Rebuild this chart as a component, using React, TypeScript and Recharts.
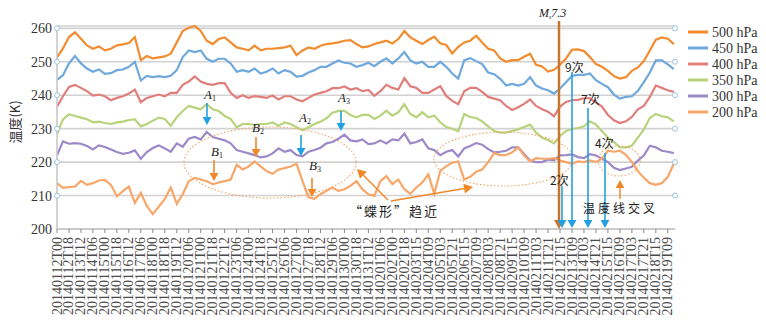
import React from "react";
import { LineChart, Line, XAxis, YAxis, CartesianGrid, ReferenceDot } from "recharts";

// category labels, one tick every 18 h (data sampled twice per tick)
const LABELS = [
  "20140112T00", "20140112T18", "20140113T12", "20140114T06", "20140115T00", "20140115T18",
  "20140116T12", "20140117T06", "20140118T00", "20140118T18", "20140119T12", "20140120T06",
  "20140121T00", "20140121T18", "20140122T12", "20140123T06", "20140124T00", "20140124T18",
  "20140125T12", "20140126T06", "20140127T00", "20140127T18", "20140128T12", "20140129T06",
  "20140130T00", "20140130T18", "20140131T12", "20140201T06", "20140202T00", "20140202T18",
  "20140203T15", "20140204T09", "20140205T03", "20140205T21", "20140206T15", "20140207T09",
  "20140208T03", "20140208T21", "20140209T15", "20140210T09", "20140211T03", "20140211T21",
  "20140212T15", "20140213T09", "20140214T03", "20140214T21", "20140215T15", "20140216T09",
  "20140217T03", "20140217T21", "20140218T15", "20140219T09",
];

const P500 = [
  251.3, 254, 257.4, 258.8, 256.9, 254.9, 253.9, 254.6, 253.4, 253.9, 254.9, 255.2, 255.6, 257.4, 250.5, 251.7,
  251, 251.3, 251.6, 252.4, 255.8, 259.2, 260.2, 260.7, 259.2, 256.3, 255.3, 256.8, 257.3, 255.8, 254.3, 253.9,
  253.4, 254.8, 253.4, 253.9, 253.9, 254.1, 254.3, 254.8, 252, 253.4, 254.3, 253.9, 254.8, 255.3, 255.5, 255.8,
  256.3, 256.5, 255.3, 254.3, 254.6, 255.3, 255.8, 256.3, 255.5, 256.8, 259.2, 257.3, 256.3, 255.3, 256.5, 257.5,
  255.5, 255, 252.5, 254.5, 255.8, 256.3, 257.8, 255.8, 253.9, 253.4, 251, 250, 250.5, 250.5, 251.5, 252.4,
  249.1, 248.6, 247.1, 247.6, 249.1, 251, 253.6, 253.7, 253.2, 251.4, 249.3, 248.5, 247.3, 245.7, 245, 245.4,
  247.3, 248.3, 250.2, 253.4, 256.6, 257.3, 256.9, 255.3,
];
const P450 = [
  244.6, 246, 249.5, 251.7, 249.5, 248, 247, 247.7, 246.4, 246.6, 247.5, 247.7, 248.5, 250, 244.4, 245.8,
  245.4, 245.7, 245.4, 245.8, 247.5, 251.4, 253.4, 252.9, 253.4, 250.9, 250, 250.9, 250.9, 249.5, 247, 247.5,
  247, 248, 246.5, 247, 248, 246.5, 247.5, 247, 245.6, 245.8, 246.8, 247.5, 248.5, 248.5, 249.5, 250.4,
  249.7, 249.5, 248.5, 249, 249.7, 248.7, 250, 251, 249.5, 251, 252.9, 250.4, 249.5, 250, 248.5, 248.5,
  250, 248.5, 246.5, 245, 250.4, 251.1, 250.2, 249.3, 246.8, 246.3, 244.9, 242.9, 243.4, 242.9, 243.4, 245.4,
  242.9, 242, 241.5, 240.5, 242, 243.9, 245.8, 246.1, 246.1, 246.5, 244.5, 243.4, 242.4, 240.2, 239, 239.5,
  239.7, 241.3, 243.9, 246.8, 250.4, 250.4, 249.2, 247.8,
];
const P400 = [
  236.6, 239.7, 242.5, 243.1, 242.2, 241.2, 239.9, 240.2, 239.7, 238.5, 239.2, 239.7, 240.5, 241.7, 237.9, 239.2,
  239.7, 240.2, 239.7, 240.7, 240.7, 243.1, 244.1, 245.6, 244.1, 243.4, 243.1, 243.6, 243.6, 240.7, 239.2, 240,
  239.2, 239.7, 239.5, 239.2, 239.9, 238.7, 239.7, 239.7, 238.7, 238.2, 239.2, 240.2, 240.7, 241.2, 242.1, 242.1,
  242.6, 241.7, 242.1, 241.2, 241.6, 239.8, 241.2, 243.1, 242.2, 241.7, 245.1, 242.7, 242.2, 240.7, 240.7, 241.7,
  242.7, 239.8, 238.3, 237.3, 241.2, 242.2, 242.2, 241, 239.5, 239, 238.5, 236.8, 235.6, 236.4, 237.4, 238.7,
  236.8, 235.8, 235.1, 233.7, 236.6, 238, 238.5, 238.6, 239.1, 239.1, 237.8, 236.6, 234.1, 232.5, 231.7, 232.2,
  233.5, 235.8, 236.8, 239.5, 242.9, 242.2, 241.5, 241,
];
const P350 = [
  228.4, 232.8, 234.3, 233.8, 233.3, 232.8, 231.9, 232.1, 231.7, 231.4, 231.9, 232.1, 232.6, 232.8, 230.7, 231.4,
  232.4, 233.3, 232.9, 230.9, 233.4, 235.3, 236.8, 236.3, 235.8, 237.3, 235.8, 235.3, 233.8, 232.9, 230.4, 231.4,
  231.4, 231.1, 231.4, 231.4, 231.9, 230.9, 231.9, 231.4, 230.4, 229.5, 230.4, 231.4, 232.1, 233.1, 234.8, 235.3,
  235.3, 234.1, 233.4, 234.1, 234.1, 232.9, 233.9, 235.4, 233.9, 234.9, 237.3, 234.4, 233.4, 234.9, 233.4, 233.9,
  231.9, 230.5, 230, 229.2, 234.4, 233.5, 233.2, 232.2, 230.7, 229.3, 228.8, 228.8, 229.3, 229.8, 230.5, 231.2,
  228.8, 227.3, 226.6, 225.6, 227.8, 229.3, 229.9, 230.2, 230.7, 232.2, 231.2, 229.3, 227.3, 226, 224.4, 224.4,
  224.9, 227.3, 229.8, 233.2, 234.4, 233.7, 233.4, 232.2,
];
const P300 = [
  222, 226.2, 225.5, 225.7, 225.5, 224.8, 223.8, 225, 224.5, 223.8, 223, 222.5, 222.8, 223.5, 221, 223,
  224.2, 225, 224.1, 223.1, 225.6, 224.6, 227, 227.5, 226.8, 229, 227.5, 227, 226.5, 225.6, 223.6, 223.1,
  222.6, 222.1, 221.4, 221.7, 222.6, 224.1, 223.1, 223.6, 222.1, 221.7, 223.1, 223.6, 224.3, 225.6, 226, 227,
  228.2, 226.5, 226.2, 226.8, 225.4, 225.6, 226.5, 225.6, 226.8, 226.5, 228.5, 225.6, 226, 226.8, 224.1, 223.6,
  222.1, 223.1, 223.6, 221.7, 224.1, 224.8, 225.7, 225.2, 223.9, 222.9, 223.1, 223.4, 224.4, 224.4, 222.4, 220.5,
  220, 220, 220.8, 220.5, 222, 222.1, 222.3, 221.5, 221.2, 222.4, 222, 221, 220, 218.3, 217.6, 218.1,
  218.6, 220.5, 222, 224.9, 224.4, 223.4, 223.1, 222.7,
];
const P200 = [
  213.7, 212.3, 212.5, 212.7, 214.4, 213.2, 213.7, 214.5, 214.7, 213.2, 209.8, 211.3, 212.7, 207.8, 210.8, 206.9,
  204.4, 206.7, 209, 212.4, 207.5, 210.4, 214.3, 215.3, 214.8, 214.3, 213.4, 213.9, 214.3, 214.8, 219.2, 217.8,
  218.7, 220.2, 218.7, 217.3, 216.5, 217.8, 218.2, 218.7, 219.5, 214.3, 209.5, 209, 210.4, 211.4, 212.4, 211.4,
  211.9, 212.9, 214.3, 211.9, 210.4, 209.9, 214.3, 215.8, 213.4, 214.8, 211.9, 210.5, 212.4, 213.9, 216.3, 210.5,
  217.4, 218.8, 219.8, 220.2, 214.8, 215.6, 217.1, 217.8, 220, 222.7, 222.1, 222.1, 222.9, 224.4, 222, 220.2,
  221.2, 221, 221, 221.2, 220.5, 220, 219.5, 220.2, 220, 220.5, 220, 221, 223.4, 223.1, 223.4, 222.2,
  220, 217.3, 215.3, 213.7, 213.2, 213.7, 215.6, 219.5,
];

const Y_TICKS = [200, 210, 220, 230, 240, 250, 260];
const GRID_ENDS = [210, 220, 230, 240, 250, 260];

const SERIES = [
  { key: "p500", name: "500 hPa", color: "#f28c2e", values: P500 },
  { key: "p450", name: "450 hPa", color: "#6fa8dc", values: P450 },
  { key: "p400", name: "400 hPa", color: "#e07e7c", values: P400 },
  { key: "p350", name: "350 hPa", color: "#b9d27c", values: P350 },
  { key: "p300", name: "300 hPa", color: "#9c89c7", values: P300 },
  { key: "p200", name: "200 hPa", color: "#f8a669", values: P200 },
];

const ROWS = P500.map((_, k) => {
  const row: Record<string, number> = { i: k / 2 };
  SERIES.forEach((s) => (row[s.key] = s.values[k]));
  return row;
});

const X_MAX = 51.6;
const SERIF = "'Liberation Serif', 'Times New Roman', serif";
const CJK = "'Noto Sans CJK SC', sans-serif";
const BLUE = "#22a0e4";
const ORANGE = "#f0882a";
const DOTTED = "#f2a466";

function XTick({ x, y, payload }: any) {
  const ax = x + 4.5;
  const ay = y + 2;
  return (
    <text x={ax} y={ay} transform={`rotate(-90 ${ax} ${ay})`} textAnchor="end" fontSize={14} fill="#4a4a4a" fontFamily={SERIF}>
      {LABELS[payload.value]}
    </text>
  );
}

function Arrow({ x1, y1, x2, y2, color, w = 1.6, head = 8 }: any) {
  const dx = x2 - x1;
  const dy = y2 - y1;
  const len = Math.hypot(dx, dy);
  const ux = dx / len;
  const uy = dy / len;
  const bx = x2 - ux * head;
  const by = y2 - uy * head;
  const hw = head * 0.55;
  const pts = `${x2},${y2} ${bx - uy * hw},${by + ux * hw} ${bx + uy * hw},${by - ux * hw}`;
  return (
    <g>
      <line x1={x1} y1={y1} x2={bx} y2={by} stroke={color} strokeWidth={w} />
      <polygon points={pts} fill={color} />
    </g>
  );
}

function SubLabel({ x, y, main, sub }: any) {
  return (
    <text x={x} y={y} fontFamily={SERIF} fontSize={13} fontStyle="italic" fill="#222">
      {main}
      <tspan fontSize={8} dy={2} fontStyle="normal">{sub}</tspan>
    </text>
  );
}

function Overlay() {
  return (
    <svg width={766} height={329} style={{ position: "absolute", left: 0, top: 0, pointerEvents: "none" }}>
      <text x={20} y={122} transform="rotate(-90 20 122)" textAnchor="middle" fontFamily={CJK} fontSize={13} fill="#333">
        温度(K)
      </text>

      {/* legend */}
      {SERIES.map((s, n) => (
        <g key={s.key}>
          <line x1={688} x2={708} y1={32 + n * 16} y2={32 + n * 16} stroke={s.color} strokeWidth={3} />
          <text x={712} y={32 + n * 16 + 5} fontFamily={SERIF} fontSize={14} fill="#333">{s.name}</text>
        </g>
      ))}

      {/* dotted ellipses */}
      <ellipse cx={270} cy={162.5} rx={86} ry={35.5} fill="none" stroke={DOTTED} strokeWidth={1.1} strokeDasharray="1.5 2" />
      <ellipse cx={503.5} cy={159} rx={69.5} ry={27} fill="none" stroke={DOTTED} strokeWidth={1.1} strokeDasharray="1.5 2" />
      <ellipse cx={619} cy={161} rx={21} ry={15} fill="none" stroke={DOTTED} strokeWidth={1.1} strokeDasharray="1.5 2" />

      {/* A / B markers */}
      <SubLabel x={204} y={99} main="A" sub="1" />
      <Arrow x1={207} y1={103} x2={207} y2={125} color={BLUE} />
      <SubLabel x={299} y={122} main="A" sub="2" />
      <Arrow x1={301} y1={135} x2={301} y2={156} color={BLUE} />
      <SubLabel x={338} y={102} main="A" sub="3" />
      <Arrow x1={341} y1={111} x2={341} y2={131} color={BLUE} />
      <SubLabel x={211} y={156} main="B" sub="1" />
      <Arrow x1={214} y1={160} x2={214} y2={181} color={ORANGE} />
      <SubLabel x={252} y={132} main="B" sub="2" />
      <Arrow x1={256} y1={137} x2={256} y2={157} color={ORANGE} />
      <SubLabel x={309} y={170} main="B" sub="3" />
      <Arrow x1={312} y1={178} x2={312} y2={197} color={ORANGE} />

      {/* butterfly convergence */}
      <Arrow x1={388} y1={200} x2={357} y2={169} color={ORANGE} w={1.4} head={9} />
      <Arrow x1={391} y1={201} x2={473} y2={187} color={ORANGE} w={1.4} head={9} />
      <text x={349} y={216} fontFamily={CJK} fontSize={13} letterSpacing={2} fill="#222">“蝶形”趋近</text>

      {/* earthquake line */}
      <Arrow x1={559} y1={21} x2={559} y2={229} color="#c8752f" w={2.5} head={9} />
      <text x={539} y={17} fontFamily={SERIF} fontSize={12} fontStyle="italic" fill="#222">
        M<tspan fontSize={6} dy={2}>s</tspan><tspan dy={-2}>7.3</tspan>
      </text>

      {/* crossing counts */}
      <Arrow x1={562} y1={186} x2={562} y2={228} color={BLUE} w={1.6} head={8} />
      <text x={550} y={185} fontFamily={CJK} fontSize={12} fill="#222">2次</text>
      <Arrow x1={572} y1={72} x2={572} y2={228} color={BLUE} w={1.6} head={8} />
      <text x={565} y={72} fontFamily={CJK} fontSize={12} fill="#222">9次</text>
      <Arrow x1={588} y1={108} x2={588} y2={228} color={BLUE} w={1.6} head={8} />
      <text x={581} y={104} fontFamily={CJK} fontSize={12} fill="#222">7次</text>
      <Arrow x1={605} y1={153} x2={605} y2={228} color={BLUE} w={1.6} head={8} />
      <text x={595} y={148} fontFamily={CJK} fontSize={12} fill="#222">4次</text>

      <Arrow x1={620} y1={199} x2={620} y2={180} color={ORANGE} w={1.4} head={8} />
      <text x={583} y={213} fontFamily={CJK} fontSize={12} letterSpacing={3} fill="#222">温度线交叉</text>
    </svg>
  );
}

export default function App() {
  const tickIdx = LABELS.map((_, n) => n);
  return (
    <div style={{ position: "absolute", left: 0, top: 0, width: 766, height: 329, background: "#fff" }}>
      <LineChart width={766} height={329} data={ROWS} margin={{ top: 26, right: 91, bottom: 0, left: 12 }}>
        <CartesianGrid vertical={false} stroke="#d2d2d2" strokeWidth={1.6} />
        <XAxis
          type="number"
          dataKey="i"
          domain={[0, X_MAX]}
          ticks={tickIdx}
          interval={0}
          height={100}
          tick={<XTick />}
          tickSize={4}
          tickLine={{ stroke: "#888" }}
          axisLine={{ stroke: "#c4c4c4", strokeWidth: 1.5 }}
          allowDataOverflow
        />
        <YAxis
          domain={[200, 260]}
          ticks={Y_TICKS}
          width={45}
          tickLine={false}
          tickSize={0}
          tickMargin={5}
          axisLine={{ stroke: "#c4c4c4", strokeWidth: 1.5 }}
          tick={{ fontSize: 14, fill: "#333", fontFamily: SERIF }}
        />
        {SERIES.map((s) => (
          <Line
            key={s.key}
            dataKey={s.key}
            name={s.name}
            stroke={s.color}
            strokeWidth={2.2}
            dot={false}
            type="linear"
            isAnimationActive={false}
          />
        ))}
        {GRID_ENDS.map((v) => (
          <ReferenceDot key={`l${v}`} x={0} y={v} r={2.5} fill="#fff" stroke="#9dc3d9" strokeWidth={1} ifOverflow="visible" />
        ))}
        {GRID_ENDS.map((v) => (
          <ReferenceDot key={`r${v}`} x={X_MAX} y={v} r={2.5} fill="#fff" stroke="#9dc3d9" strokeWidth={1} ifOverflow="visible" />
        ))}
      </LineChart>
      <Overlay />
    </div>
  );
}
